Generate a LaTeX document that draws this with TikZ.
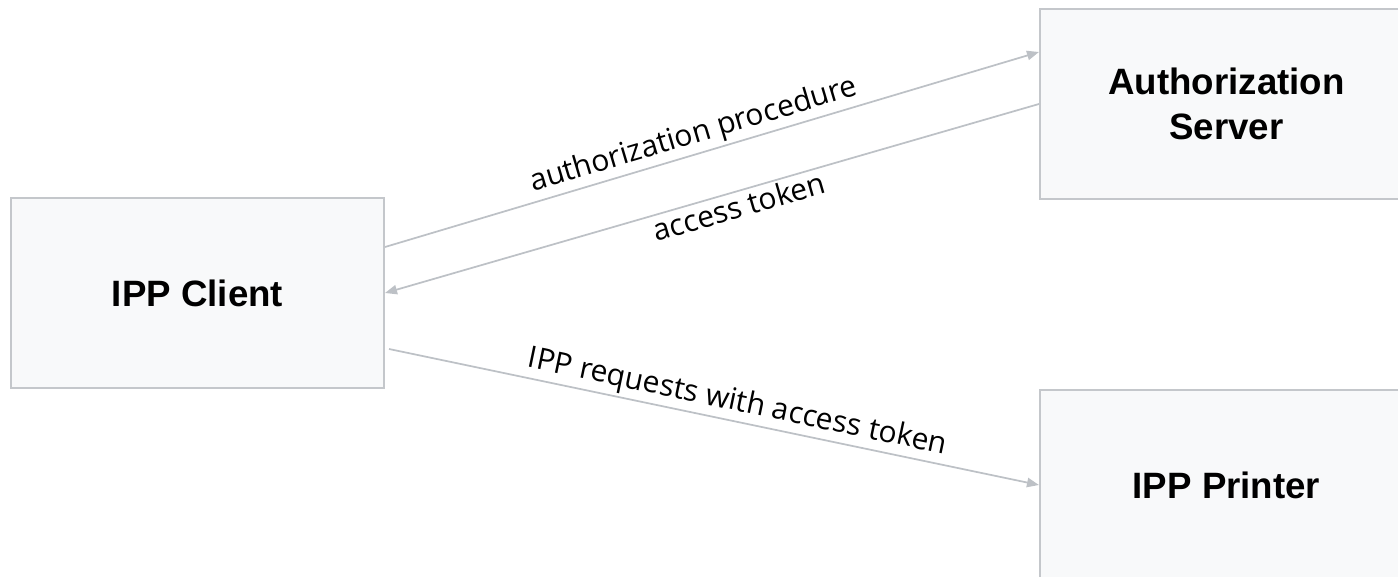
\documentclass[tikz,border=0pt]{standalone}
\usepackage{fontspec}
\setmainfont{Liberation Sans}
\newfontfamily\flowfont{Open Sans}
\usepackage{tikz}
\usetikzlibrary{arrows.meta}

\definecolor{boxfill}{HTML}{F8F9FA}
\definecolor{boxline}{HTML}{C4C7CB}
\definecolor{flowline}{HTML}{BDC1C6}

\begin{document}
\begin{tikzpicture}[x=0.75pt, y=-0.75pt,
    box/.style={
        % The shape:
        rectangle,
        % The size:
        minimum width=280pt,
        minimum height=142pt,
        % The border
        line width=1.3pt,
        draw=boxline,
        % The filling
        fill=boxfill,
        % Font
        font=\fontsize{27.5}{33.5}\selectfont\bfseries,
        align=center
    },
    flow/.style={
        line width=1.3pt,
        draw=flowline,
        -{Triangle[length=9pt, width=7pt]}
    },
    lbl/.style={
        font=\flowfont\fontsize{22.5}{26}\selectfont,
        sloped,
        inner sep=2pt
    }]

    \useasboundingbox (0,0) rectangle (1398,577);
    \clip (0,0) rectangle (1398,577);

    \node [box] (client) at (197.5,293) {IPP Client};
    \node [box] (authsrv) at (1226.5,104) {Authorization\\Server};
    \node [box] (printer) at (1226.5,485) {IPP Printer};

    \draw [flow] ([yshift=34.5pt]client.east) -- ([yshift=39pt]authsrv.west)
        node [lbl, above, pos=0.48] {authorization procedure};
    \draw [flow] (authsrv.west) -- (client.east)
        node [lbl, below, pos=0.465] {access token};
    \draw [flow] ([xshift=3pt, yshift=-42pt]client.east) -- (printer.west)
        node [lbl, above, pos=0.53] {IPP requests with access token};
\end{tikzpicture}
\end{document}
